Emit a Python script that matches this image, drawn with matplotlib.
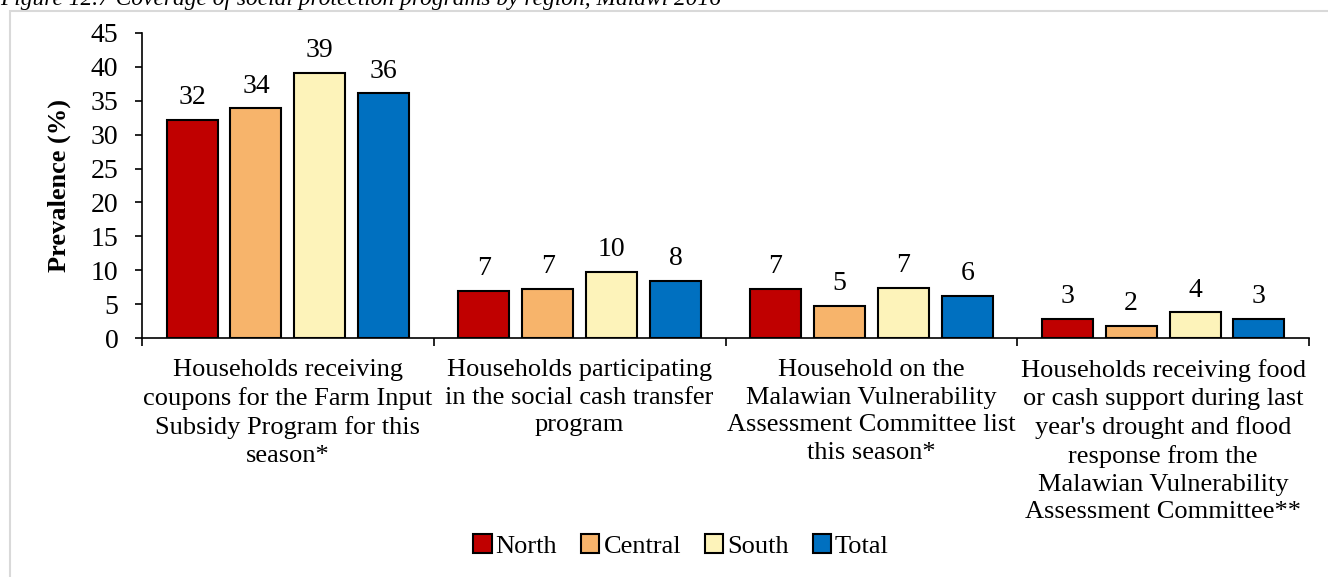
import numpy as np
import matplotlib.pyplot as plt
from matplotlib.patches import Rectangle

plt.rcParams.update({
    "font.family": ["Liberation Serif", "DejaVu Serif"],
    "figure.dpi": 100,
})

categories = [
    "Households receiving\ncoupons for the Farm Input\nSubsidy Program for this\nseason*",
    "Households participating\nin the social cash transfer\nprogram",
    "Household on the\nMalawian Vulnerability\nAssessment Committee list\nthis season*",
    "Households receiving food\nor cash support during last\nyear's drought and flood\nresponse from the\nMalawian Vulnerability\nAssessment Committee**",
]
regions = ["North", "Central", "South", "Total"]
north = [32.2, 7.0, 7.2, 2.8]
central = [33.9, 7.2, 4.7, 1.8]
south = [39.1, 9.8, 7.4, 3.8]
total = [36.1, 8.4, 6.2, 2.8]
labels = [
    [32, 7, 7, 3],
    [34, 7, 5, 2],
    [39, 10, 7, 4],
    [36, 8, 6, 3],
]
COLORS = ["#C00000", "#F7B46B", "#FDF3BA", "#0070C0"]

W, H = 1328, 577
fig = plt.figure(figsize=(W / 100, H / 100))

# light frame of the source document
fig.patches.append(Rectangle((10 / W, -0.1), 1.2, 1.1 - 11 / H, transform=fig.transFigure,
                             fill=False, edgecolor="#d9d9d9", lw=1.5))
fig.text(0 / W, 1 - 5 / H, "Figure 12.7 Coverage of social protection programs by region, Malawi 2016",
         fontsize=16.8, style="italic", ha="left", va="baseline")

ax = fig.add_axes([142 / W, 1 - 338 / H, (1309 - 142) / W, (338 - 33) / H])

x = np.arange(len(categories))
step = 0.219
width = 0.175
series = [north, central, south, total]
for i, (name, vals, col) in enumerate(zip(regions, series, COLORS)):
    pos = x + (i - 1.5) * step
    ax.bar(pos, vals, width=width, color=col, edgecolor="black", lw=1.5, label=name, zorder=3)
    for p, v, lab in zip(pos, vals, labels[i]):
        ax.annotate(str(lab), (p, v), xytext=(0, 7), textcoords="offset points",
                    ha="center", va="bottom", fontsize=20)

ax.set_xlim(-0.5, 3.5)
ax.set_ylim(0, 45)
ax.set_yticks(range(0, 50, 5))
ax.tick_params(axis="y", labelsize=20, length=5, width=1.2, pad=12)
ax.set_xticks(np.arange(-0.5, 4, 1))
ax.set_xticklabels([])
ax.tick_params(axis="x", which="major", length=6, width=1.2)
ax.set_xticks(x, minor=True)
ax.set_xticklabels(categories, minor=True, fontsize=19, linespacing=1.34)
ax.tick_params(axis="x", which="minor", length=0, pad=15)

for s in ["top", "right"]:
    ax.spines[s].set_visible(False)
ax.spines["left"].set_linewidth(1.2)
ax.spines["bottom"].set_linewidth(1.2)

ax.set_ylabel("Prevalence (%)", fontsize=19, fontweight="bold", labelpad=14)

ax.legend(loc="center", bbox_to_anchor=(681 / W, 1 - 546 / H), bbox_transform=fig.transFigure,
          ncol=4, frameon=False, fontsize=19, handlelength=0.7, handleheight=0.7,
          handletextpad=0.15, columnspacing=0.9)

fig.savefig("out.png", dpi=100)
